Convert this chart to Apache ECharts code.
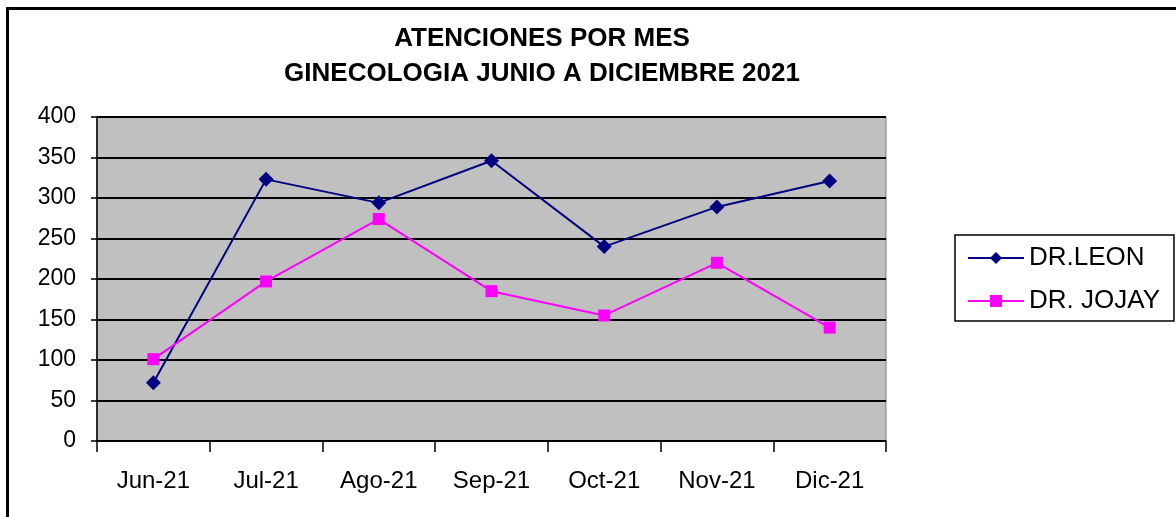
<!DOCTYPE html>
<html>
<head>
<meta charset="utf-8">
<script src="https://cdn.jsdelivr.net/npm/echarts@6/dist/echarts.min.js"></script>
<style>
  html, body { margin: 0; padding: 0; background: #fff; }
  #mychart { width: 1176px; height: 517px; }
</style>
</head>
<body>
<div id="mychart"></div>
<script>
// meses
const months = ["Jun-21", "Jul-21", "Ago-21", "Sep-21", "Oct-21", "Nov-21", "Dic-21"];
// atenciones por doctor
const leon = [72, 323, 294, 346, 240, 289, 321];
const jojay = [101, 197, 274, 185, 155, 220, 140];

const chart = echarts.init(document.getElementById("mychart"));
const font = "Liberation Sans, Arial, sans-serif";

const option = {
  backgroundColor: "#fff",
  animation: false,
  title: {
    text: "ATENCIONES POR MES\nGINECOLOGIA JUNIO A DICIEMBRE 2021",
    left: 537,
    textAlign: "center",
    top: 16,
    textStyle: {
      fontFamily: font,
      fontSize: 26,
      fontWeight: "bold",
      color: "#000",
      lineHeight: 35
    }
  },
  graphic: [
    {
      type: "rect",
      left: 5,
      top: 6,
      shape: { width: 1200, height: 530 },
      style: { fill: "none", stroke: "#000", lineWidth: 3 },
      silent: true
    }
  ],
  legend: {
    orient: "vertical",
    left: 955,
    top: 235,
    padding: [10, 14, 7, 12],
    itemGap: 17,
    itemWidth: 56,
    itemHeight: 15,
    borderColor: "#000",
    borderWidth: 1.5,
    textStyle: { fontFamily: font, fontSize: 26, color: "#000" },
    data: ["DR.LEON", "DR. JOJAY"]
  },
  grid: {
    left: 97,
    top: 117,
    width: 789,
    height: 324,
    show: true,
    backgroundColor: "#C0C0C0",
    borderColor: "#808080",
    borderWidth: 1
  },
  xAxis: {
    type: "category",
    data: months,
    boundaryGap: true,
    axisLine: { lineStyle: { color: "#000", width: 1.5 } },
    axisTick: { show: true, length: 11, lineStyle: { color: "#000", width: 1.5 } },
    axisLabel: { fontFamily: font, fontSize: 24, color: "#000", margin: 28 },
    splitLine: { show: false }
  },
  yAxis: {
    type: "value",
    min: 0,
    max: 400,
    interval: 50,
    axisLine: { show: true, lineStyle: { color: "#000", width: 1.5 } },
    axisTick: { show: true, length: 6, lineStyle: { color: "#000", width: 1.5 } },
    axisLabel: { fontFamily: font, fontSize: 23, color: "#000", margin: 21 },
    splitLine: { show: true, lineStyle: { color: "#000", width: 2 } }
  },
  series: [
    {
      name: "DR.LEON",
      type: "line",
      data: leon,
      symbol: "diamond",
      symbolSize: 15,
      color: "#000080",
      lineStyle: { color: "#000080", width: 2 },
      itemStyle: { color: "#000080" }
    },
    {
      name: "DR. JOJAY",
      type: "line",
      data: jojay,
      symbol: "rect",
      symbolSize: 12,
      color: "#FF00FF",
      lineStyle: { color: "#FF00FF", width: 2 },
      itemStyle: { color: "#FF00FF" }
    }
  ]
};

chart.setOption(option);
</script>
</body>
</html>
